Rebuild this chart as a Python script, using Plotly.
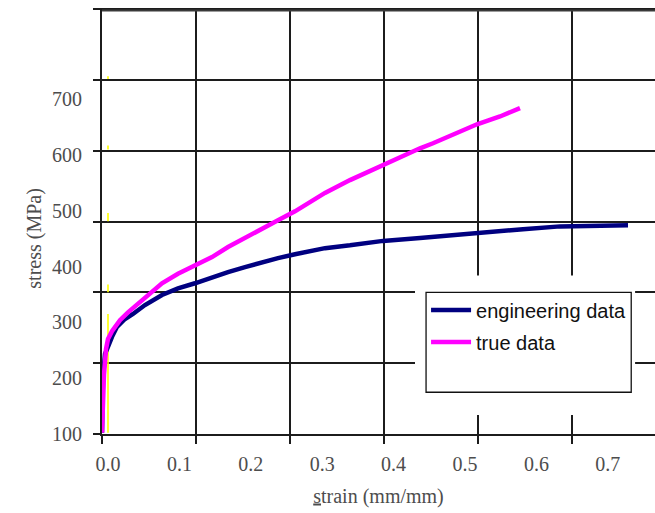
import plotly.graph_objects as go

# Engineering stress-strain curve
eng_strain = [-0.0084, -0.0084, -0.0070, -0.0042, 0.0, 0.0056, 0.0126, 0.0238, 0.0350,
              0.0518, 0.0756, 0.0980, 0.1218, 0.1457, 0.1681, 0.1919, 0.2157, 0.2381,
              0.2619, 0.2857, 0.3039, 0.3389, 0.3852, 0.4370, 0.4790, 0.5490, 0.5812,
              0.6331, 0.6891, 0.7283]
eng_stress = [102, 163, 202, 243, 259, 274, 292, 306, 315,
              331, 349, 361, 370, 381, 390, 399, 408, 415,
              422, 428, 433, 438, 446, 451, 456, 464, 467,
              472, 474, 474]

# True stress-strain curve
true_strain = [-0.0084, -0.0070, -0.0056, -0.0028, 0.0, 0.0056, 0.0168, 0.0280, 0.0448,
               0.0630, 0.0756, 0.0980, 0.1218, 0.1457, 0.1681, 0.1919, 0.2157, 0.2381,
               0.2619, 0.2857, 0.3039, 0.3389, 0.3739, 0.4090, 0.4370, 0.4552, 0.4860,
               0.5168, 0.5490, 0.5770]
true_stress = [102, 172, 207, 252, 270, 284, 304, 318, 336,
               358, 370, 387, 401, 417, 435, 452, 467, 483,
               499, 517, 532, 555, 576, 596, 612, 621, 639,
               655, 669, 684]

# Offset (yield) line, partly hidden
offset_strain = [0.0, 0.0, None, 0.0, 0.0, None, 0.0, 0.0, None, 0.0, 0.0, None, 0.0, 0.0]
offset_stress = [102, 315, None, 354, 368, None, 481, 496, None, 610, 617, None, 736, 741]

strain_ticks = [0.0, 0.1, 0.2, 0.3, 0.4, 0.5, 0.6, 0.7]
strain_labels = ["0.0", "0.1", "0.2", "0.3", "0.4", "0.5", "0.6", "0.7"]
stress_ticks = [100, 200, 300, 400, 500, 600, 700]
stress_labels = ["100", "200", "300", "400", "500", "600", "700"]

serif = "Liberation Serif, Times New Roman, serif"
label_grey = "#4d4d4d"
grid_col = "#1c1c1c"

fig = go.Figure()

# empty trace so the grid subplot is drawn
fig.add_trace(go.Scatter(x=[None], y=[None], mode="lines", showlegend=False,
                         hoverinfo="skip"))

fig.add_trace(go.Scatter(x=offset_strain, y=offset_stress, xaxis="x2", yaxis="y2",
                         mode="lines", line=dict(color="#ffff00", width=1.6),
                         showlegend=False, hoverinfo="skip"))
fig.add_trace(go.Scatter(x=eng_strain, y=eng_stress, xaxis="x2", yaxis="y2",
                         mode="lines", name="engineering data",
                         line=dict(color="#000080", width=4.5), legendgroup="a"))
fig.add_trace(go.Scatter(x=true_strain, y=true_stress, xaxis="x2", yaxis="y2",
                         mode="lines", name="true data",
                         line=dict(color="#ff00ff", width=4.5), legendgroup="b"))

# Top edge of the plot frame
fig.add_shape(type="line", xref="paper", yref="paper", x0=0, x1=1, y0=0.994, y1=0.994,
              line=dict(color="#3a3a3a", width=2), layer="above")

# Legend frame: white surround hiding the grid, then the black border
box = dict(xref="paper", yref="paper", layer="above")
fig.add_shape(type="rect", x0=0.566, x1=0.964, y0=0.0445, y1=0.372,
              fillcolor="white", line=dict(width=0), **box)
fig.add_shape(type="rect", x0=0.586, x1=0.957, y0=0.098, y1=0.3326,
              fillcolor="rgba(0,0,0,0)", line=dict(color="#111", width=1.3), **box)

fig.add_annotation(text="stress (MPa)", xref="paper", yref="paper",
                   x=-0.147, y=0.459, textangle=-90, showarrow=False,
                   font=dict(family=serif, size=20, color=label_grey))

fig.update_layout(
    width=655, height=513,
    margin=dict(l=102, r=0, t=8, b=79),
    paper_bgcolor="white", plot_bgcolor="white",
    # grid axes
    xaxis=dict(range=[0, 0.5883], dtick=0.1, tick0=0, showticklabels=False,
               showgrid=True, gridcolor=grid_col, gridwidth=1.5,
               zeroline=False, showline=True, linecolor=grid_col, linewidth=1.5,
               ticks="outside", ticklen=8, tickwidth=1.5, tickcolor=grid_col,
               fixedrange=True),
    yaxis=dict(range=[0, 601.5], dtick=100, tick0=0, showticklabels=False,
               showgrid=True, gridcolor=grid_col, gridwidth=1.5,
               zeroline=False, showline=True, linecolor=grid_col, linewidth=1.5,
               ticks="outside", ticklen=7, tickwidth=1.5, tickcolor=grid_col,
               fixedrange=True),
    # labelled data axes
    xaxis2=dict(overlaying="x", anchor="y2", side="bottom",
                range=[-0.0084, 0.7661], tickvals=strain_ticks, ticktext=strain_labels,
                showgrid=False, zeroline=False, showline=False, ticks="",
                ticklabelstandoff=16,
                tickfont=dict(family=serif, size=20, color=label_grey),
                title=dict(text='<span style="text-decoration:underline">s</span>train (mm/mm)',
                           font=dict(family=serif, size=20, color=label_grey), standoff=14)),
    yaxis2=dict(overlaying="y", anchor="x2", side="left",
                range=[99.8, 863.5], tickvals=stress_ticks, ticktext=stress_labels,
                showgrid=False, zeroline=False, showline=False, ticks="",
                ticklabelstandoff=19,
                tickfont=dict(family=serif, size=20, color=label_grey)),
    showlegend=True,
    legend=dict(x=0.586, y=0.337, xanchor="left", yanchor="top",
                bgcolor="rgba(0,0,0,0)", borderwidth=0,
                traceorder="grouped", tracegroupgap=3, itemwidth=40,
                font=dict(family="Liberation Sans, Arial, sans-serif", size=20, color="#111")),
)

fig.write_html("out.html")
